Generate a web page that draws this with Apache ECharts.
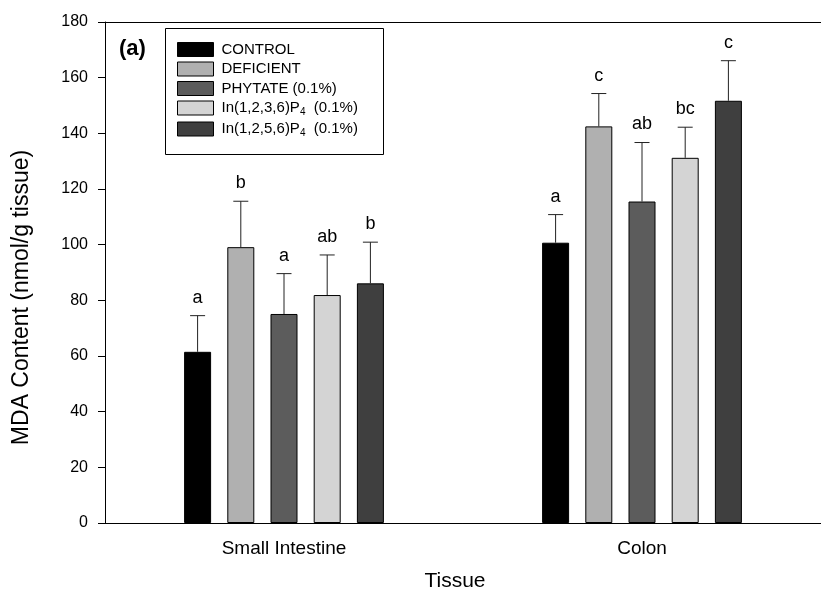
<!DOCTYPE html>
<html>
<head>
<meta charset="utf-8">
<script src="https://cdn.jsdelivr.net/npm/echarts@6/dist/echarts.min.js"></script>
<style>
  html, body { margin: 0; padding: 0; background: #fff; }
  #chart { width: 821px; height: 598px; }
</style>
</head>
<body>
<div id="chart"></div>
<script>
// Tissues on the x axis
const tissues = ['Small Intestine', 'Colon'];

// Diet groups (legend order)
const groupNames = ['CONTROL', 'DEFICIENT', 'PHYTATE (0.1%)', 'In(1,2,3,6)P4 (0.1%)', 'In(1,2,5,6)P4 (0.1%)'];

// Mean MDA content (nmol/g tissue) per group, [Small Intestine, Colon]
const controlMean   = [61.5, 100.7];
const deficientMean = [99.1, 142.5];
const phytateMean   = [75.1, 115.5];
const ins1236Mean   = [81.9, 131.2];
const ins1256Mean   = [86.1, 151.7];

// Upper error (SD) per group
const controlErr   = [13.0, 10.1];
const deficientErr = [16.5, 11.8];
const phytateErr   = [14.5, 21.2];
const ins1236Err   = [14.4, 11.0];
const ins1256Err   = [14.8, 14.4];

// Significance letters per group
const controlSig   = ['a', 'a'];
const deficientSig = ['b', 'c'];
const phytateSig   = ['a', 'ab'];
const ins1236Sig   = ['ab', 'bc'];
const ins1256Sig   = ['b', 'c'];

// Y axis ticks
const yMin = 0, yMax = 180, yStep = 20;

const means = [controlMean, deficientMean, phytateMean, ins1236Mean, ins1256Mean];
const errs  = [controlErr, deficientErr, phytateErr, ins1236Err, ins1256Err];
const sigs  = [controlSig, deficientSig, phytateSig, ins1236Sig, ins1256Sig];
const fills = ['#000000', '#b0b0b0', '#5c5c5c', '#d4d4d4', '#3f3f3f'];

const FONT = "'Liberation Sans', Arial, Helvetica, sans-serif";
const BAR_W = 27;
const BAR_GAP = 0.6;
const PITCH = BAR_W * (1 + BAR_GAP);

// Legend labels with subscript "4"
function legendLabel(name) {
  const m = name.match(/^(In\([0-9,]+\)P)4 (\(0\.1%\))$/);
  if (m) return '{n|' + m[1] + '}{s|4}{n|  ' + m[2] + '}';
  return '{n|' + name + '}';
}

const barSeries = groupNames.map((name, i) => ({
  name: name,
  type: 'bar',
  data: means[i],
  barWidth: BAR_W,
  barGap: (BAR_GAP * 100) + '%',
  itemStyle: { color: fills[i], borderColor: '#000', borderWidth: 1 },
  emphasis: { disabled: true },
  z: 2
}));

// Error bars + letters: [categoryIndex, groupIndex, mean, top, letter]
const errData = [];
for (let g = 0; g < groupNames.length; g++) {
  for (let c = 0; c < tissues.length; c++) {
    errData.push([c, g, means[g][c], means[g][c] + errs[g][c], sigs[g][c]]);
  }
}

const errSeries = {
  type: 'custom',
  data: errData,
  z: 3,
  silent: true,
  encode: { x: 0, y: [2, 3] },
  renderItem: function (params, api) {
    const c = api.value(0), g = api.value(1);
    const base = api.coord([c, api.value(2)]);
    const top = api.coord([c, api.value(3)]);
    const x = base[0] + (g - (groupNames.length - 1) / 2) * PITCH;
    const cap = 7.5;
    return {
      type: 'group',
      children: [
        { type: 'line', shape: { x1: x, y1: base[1], x2: x, y2: top[1] },
          style: { stroke: '#222', lineWidth: 1 } },
        { type: 'line', shape: { x1: x - cap, y1: top[1], x2: x + cap, y2: top[1] },
          style: { stroke: '#222', lineWidth: 1 } },
        { type: 'text', x: x, y: top[1] - 9,
          style: { text: errData[params.dataIndex][4], fill: '#000', font: '18px ' + FONT,
                   align: 'center', verticalAlign: 'bottom' } }
      ]
    };
  }
};

const chart = echarts.init(document.getElementById('chart'), null, { renderer: 'canvas' });
chart.setOption({
  animation: false,
  backgroundColor: '#fff',
  textStyle: { fontFamily: FONT, color: '#000' },
  grid: { left: 105, right: 0, top: 22, bottom: 75, containLabel: false },
  graphic: [
    { type: 'rect', left: 163, top: 26, shape: { width: 218, height: 126 },
      style: { fill: 'none', stroke: '#000', lineWidth: 1 }, z: 10 },
    { type: 'text', left: 119, top: 38, style: { text: '(a)', font: 'bold 22px ' + FONT, fill: '#000' }, z: 10 }
  ],
  legend: {
    orient: 'vertical',
    left: 177,
    top: 42,
    padding: 0,
    itemWidth: 36,
    itemHeight: 14,
    itemGap: 4.5,
    icon: 'rect',
    selectedMode: false,
    data: groupNames,
    formatter: legendLabel,
    itemStyle: { borderColor: '#000', borderWidth: 1 },
    textStyle: {
      padding: [0, 0, 0, 3],
      rich: {
        n: { fontSize: 15, fontFamily: FONT, color: '#000', lineHeight: 18 },
        s: { fontSize: 10, fontFamily: FONT, color: '#000', lineHeight: 18, verticalAlign: 'bottom', padding: [6, 0, 0, 0] }
      }
    }
  },
  xAxis: [
    {
      type: 'category',
      data: tissues,
      name: 'Tissue',
      nameLocation: 'middle',
      nameGap: 48,
      nameTextStyle: { fontSize: 21, color: '#000', padding: [0, 16, 0, 0] },
      axisLine: { lineStyle: { color: '#000', width: 1 } },
      axisTick: { alignWithLabel: true, length: 7, lineStyle: { color: '#000' } },
      axisLabel: { fontSize: 19, color: '#000', margin: 16 },
      splitLine: { show: false }
    },
    {
      type: 'category',
      data: tissues,
      position: 'top',
      axisLine: { lineStyle: { color: '#000', width: 1 } },
      axisTick: { show: false },
      axisLabel: { show: false },
      splitLine: { show: false }
    }
  ],
  yAxis: {
    type: 'value',
    min: yMin,
    max: yMax,
    interval: yStep,
    name: 'MDA Content (nmol/g tissue)',
    nameLocation: 'middle',
    nameGap: 72,
    nameTextStyle: { fontSize: 23, color: '#000', padding: [0, 50, 0, 0] },
    axisLine: { show: true, lineStyle: { color: '#000', width: 1 } },
    axisTick: { show: true, length: 7, lineStyle: { color: '#000' } },
    axisLabel: { fontSize: 16, color: '#000', margin: 17 },
    splitLine: { show: false }
  },
  series: barSeries.concat([errSeries])
});
</script>
</body>
</html>
